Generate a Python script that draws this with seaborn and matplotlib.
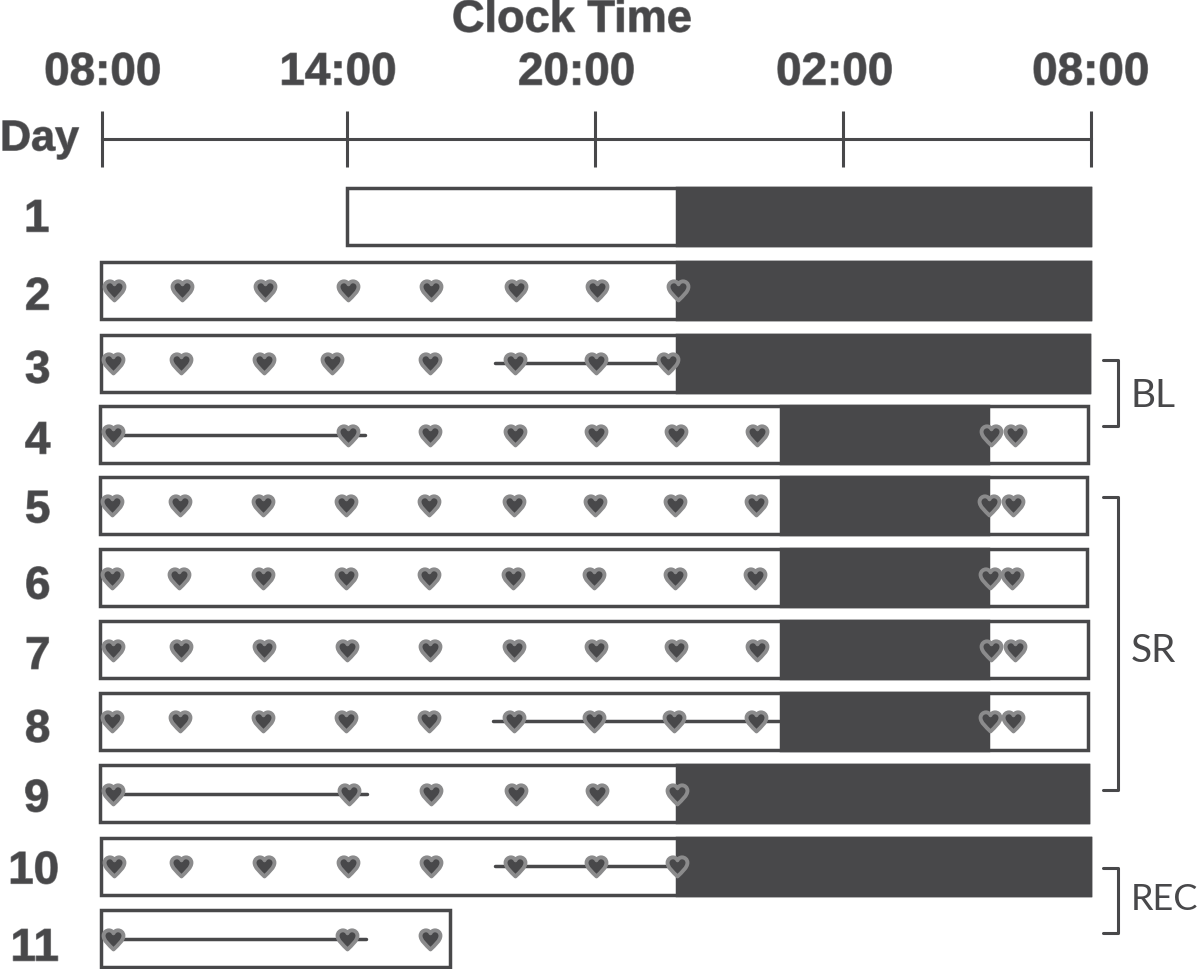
import numpy as np
import pandas as pd
import seaborn as sns
import matplotlib.pyplot as plt
import matplotlib.patheffects as pe
from matplotlib.path import Path
from matplotlib.transforms import ScaledTranslation

# hours since 08:00 on the first clock tick
clock_hours = [0, 5.95, 11.96, 17.98, 24]
clock_labels = ['08:00', '14:00', '20:00', '02:00', '08:00']
days = [1, 2, 3, 4, 5, 6, 7, 8, 9, 10, 11]

# in-bed / lab box for each day
box_start = [5.95, -0.02, -0.02, -0.04, -0.05, -0.05, -0.05, -0.05, -0.04, -0.03, -0.03]
box_end = [23.97, 23.97, 23.95, 23.92, 23.9, 23.9, 23.92, 23.92, 23.92, 23.97, 8.45]
sleep_start = [13.96, 13.96, 13.96, 16.47, 16.47, 16.47, 16.47, 16.47, 13.96, 13.96, None]
sleep_end = [23.97, 23.97, 23.95, 21.49, 21.49, 21.49, 21.49, 21.49, 23.92, 23.97, None]

# heart marks per day
hearts_2 = [0.29, 1.94, 3.96, 5.97, 7.98, 10.05, 12.01, 13.98]
hearts_3 = [0.27, 1.92, 3.93, 5.58, 7.96, 10.02, 11.99, 13.73]
hearts_4 = [0.27, 5.97, 7.96, 10.02, 11.99, 13.93, 15.89, 21.57, 22.15]
hearts_5 = [0.24, 1.89, 3.91, 5.92, 7.93, 10.0, 11.96, 13.9, 15.87, 21.52, 22.11]
hearts_6 = [0.24, 1.87, 3.91, 5.92, 7.93, 9.97, 11.94, 13.9, 15.85, 21.55, 22.08]
hearts_7 = [0.27, 1.92, 3.93, 5.95, 7.96, 10.0, 11.99, 13.93, 15.89, 21.57, 22.15]
hearts_8 = [0.24, 1.89, 3.91, 5.92, 7.93, 10.0, 11.94, 13.88, 15.87, 21.55, 22.11]
hearts_9 = [0.27, 5.99, 7.98, 10.05, 12.01, 13.95]
hearts_10 = [0.29, 1.92, 3.93, 5.97, 7.98, 10.02, 11.99, 13.95]
hearts_11 = [0.27, 5.95, 7.96]

# continuous recording segments: day, start, end
segment_days = [3, 4, 8, 9, 10, 11]
segment_start = [9.54, 0.27, 9.49, 0.27, 9.54, 0.27]
segment_end = [13.73, 6.38, 16.43, 6.43, 13.93, 6.41]

group_names = ['BL', 'SR', 'REC']
group_first = [2.99, 4.89, 10.02]
group_last = [3.9, 8.94, 10.92]

dark = '#48484a'
mid = '#8b8b8c'

# rows in the figure are not quite evenly spaced
row_y = dict(zip(days, [1, 2.018, 3.03, 4.02, 5, 6, 7, 7.99, 8.99, 10, 11]))
# small label shifts in pixels, the labels sit a bit off their rows
day_nudge_x = [0, 1, 1, 1, 1, 1, 1, 1, 0, -3, -2]
day_nudge_y = [-2, 2.5, 2.5, 2, 0, 4, 2, 3.5, 1, 0, 5]
clock_nudge_x = [1, -9, -18, -8, 0]

sns.set_theme(style='white')
plt.rcParams['font.family'] = ['Liberation Sans', 'DejaVu Sans']

fig = plt.figure(figsize=(12, 9.69), dpi=100)
ax = fig.add_axes([102 / 1200, 0, (1091 - 102) / 1200, 1])
ax.set_xlim(0, 24)
ax.set_ylim(11.42, -2.0)
ax.patch.set_alpha(0)

halo = [pe.withStroke(linewidth=0.9, foreground=mid)]

# boxes
box_df = pd.DataFrame({'day': days, 'start': box_start, 'end': box_end,
	'sleep_start': sleep_start, 'sleep_end': sleep_end})
box_df['y'] = box_df['day'].map(row_y)
ax.barh(box_df['y'], box_df['end'] - box_df['start'], left=box_df['start'], height=0.79,
	facecolor='white', edgecolor=dark, linewidth=2.5, zorder=1, clip_on=False)
sleep = box_df.dropna()
ax.barh(sleep['y'], sleep['sleep_end'] - sleep['sleep_start'], left=sleep['sleep_start'], height=0.79,
	facecolor=dark, edgecolor=dark, linewidth=2.5, zorder=1.5, clip_on=False)

# recording lines
seg_df = pd.DataFrame({
	'seg': list(range(len(segment_days))) * 2,
	'y': [row_y[d] for d in segment_days] * 2,
	'hour': segment_start + segment_end,
})
sns.lineplot(data=seg_df, x='hour', y='y', units='seg', estimator=None, sort=False,
	color=dark, linewidth=2.5, legend=False, ax=ax, zorder=2)

# hearts
heart = Path(
	[(0, -1), (-0.45, -0.55), (-1, -0.1), (-1, 0.38), (-1, 0.72), (-0.72, 0.92), (-0.46, 0.92),
		(-0.24, 0.92), (-0.08, 0.8), (0, 0.62), (0.08, 0.8), (0.24, 0.92), (0.46, 0.92),
		(0.72, 0.92), (1, 0.72), (1, 0.38), (1, -0.1), (0.45, -0.55), (0, -1), (0, -1)],
	[Path.MOVETO] + [Path.CURVE4] * 18 + [Path.CLOSEPOLY],
)
all_hearts = [hearts_2, hearts_3, hearts_4, hearts_5, hearts_6, hearts_7, hearts_8,
	hearts_9, hearts_10, hearts_11]
heart_df = pd.DataFrame([(row_y[d], h) for d, hs in zip(days[1:], all_hearts) for h in hs], columns=['y', 'hour'])
sns.scatterplot(data=heart_df, x='hour', y='y', marker=heart, s=205, color=dark,
	edgecolor=mid, linewidth=2.8, legend=False, ax=ax, zorder=3, clip_on=False)

# clock axis along the top
for side in ['left', 'right', 'bottom']:
	ax.spines[side].set_visible(False)
ax.spines['top'].set_position(('data', -0.073))
ax.spines['top'].set_color(dark)
ax.spines['top'].set_linewidth(2.2)
ax.xaxis.tick_top()
ax.set_xticks(clock_hours, clock_labels)
ax.tick_params(axis='x', direction='inout', length=41, width=2.2, color=dark, pad=11.5,
	labelsize=33, labelcolor=dark)
for lab, nudge in zip(ax.get_xticklabels(), clock_nudge_x):
	lab.set_fontweight('bold')
	lab.set_path_effects(halo)
	lab.set_transform(lab.get_transform() + ScaledTranslation(nudge / 100, 0, fig.dpi_scale_trans))

# day labels
ax.set_yticks([row_y[d] for d in days], [str(d) for d in days])
ax.tick_params(axis='y', length=0, pad=47, labelsize=33, labelcolor=dark)
for lab, nx, ny in zip(ax.get_yticklabels(), day_nudge_x, day_nudge_y):
	lab.set_fontweight('bold')
	lab.set_horizontalalignment('center')
	lab.set_path_effects(halo)
	lab.set_transform(lab.get_transform() + ScaledTranslation(nx / 100, -ny / 100, fig.dpi_scale_trans))

ax.set_xlabel('')
ax.set_ylabel('')
ax.text(11.4, -1.72, 'Clock Time', ha='center', va='center', fontsize=32.5, fontweight='bold',
	color=dark, path_effects=halo)
ax.text(-1.52, -0.07, 'Day', ha='center', va='center', fontsize=31, fontweight='bold',
	color=dark, path_effects=halo)

# group brackets
for name, first, last, label_y, size in zip(group_names, group_first, group_last, [3.49, 7.02, 10.46], [28, 28, 26]):
	ax.plot([24.3, 24.66, 24.66, 24.3], [first, first, last, last], color=dark, linewidth=2.2, clip_on=False)
	ax.text(24.97, label_y, name, ha='left', va='center', fontsize=size,
		family=['Lato', 'DejaVu Sans'], color=dark)

fig.savefig('out.png', dpi=100)
